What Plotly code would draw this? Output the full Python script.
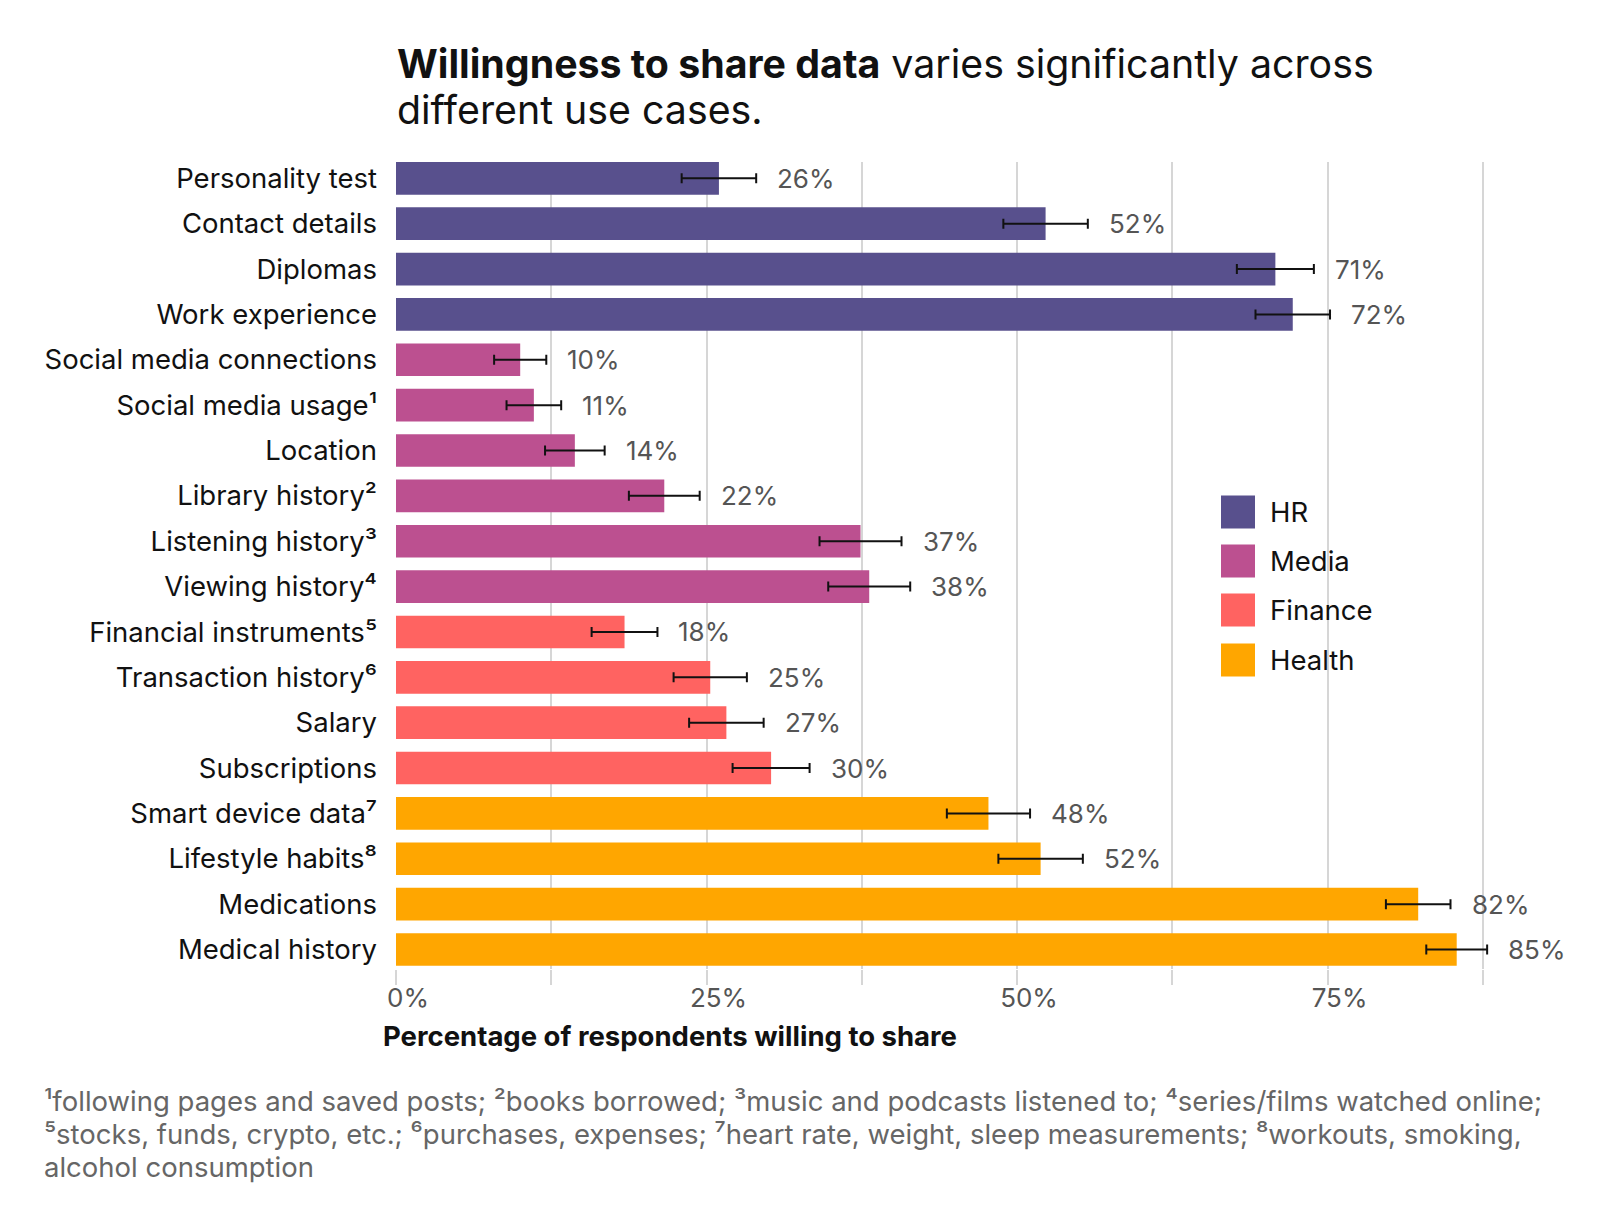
import plotly.graph_objects as go

# ---------------- data ----------------
groups = ["HR", "Media", "Finance", "Health"]
group_colors = ["#58508d", "#bc5090", "#ff6361", "#ffa600"]

hr_items = ["Personality test", "Contact details", "Diplomas", "Work experience"]
hr_values = [26.0, 52.3, 70.8, 72.2]
hr_errors = [3.0, 3.4, 3.1, 3.0]

media_items = ["Social media connections", "Social media usage¹", "Location",
               "Library history²", "Listening history³", "Viewing history⁴"]
media_values = [10.0, 11.1, 14.4, 21.6, 37.4, 38.1]
media_errors = [2.1, 2.2, 2.4, 2.85, 3.3, 3.3]

finance_items = ["Financial instruments⁵", "Transaction history⁶", "Salary", "Subscriptions"]
finance_values = [18.4, 25.3, 26.6, 30.2]
finance_errors = [2.65, 2.95, 3.0, 3.1]

health_items = ["Smart device data⁷", "Lifestyle habits⁸", "Medications", "Medical history"]
health_values = [47.7, 51.9, 82.3, 85.4]
health_errors = [3.35, 3.4, 2.6, 2.45]

x_tickvals = [0, 12.5, 25, 37.5, 50, 62.5, 75, 87.5]
x_ticktext = ["0%", "", "25%", "", "50%", "", "75%", ""]

title_lines = [
    "<b>Willingness to share data</b> varies significantly across",
    "different use cases.",
]
footnote_lines = [
    "¹following pages and saved posts; ²books borrowed; ³music and podcasts listened to; ⁴series/films watched online;",
    "⁵stocks, funds, crypto, etc.; ⁶purchases, expenses; ⁷heart rate, weight, sleep measurements; ⁸workouts, smoking,",
    "alcohol consumption",
]

# ---------------- layout geometry (pixels) ----------------
W, H = 1600, 1229
ML, MR, MT, MB = 396, 111, 162, 260
PW = W - ML - MR
PH = H - MT - MB
BAR_W = 0.72


def px(x):
    return (x - ML) / PW


def py(y):
    return (H - MB - y) / PH


FONT = "Inter, 'Noto Sans', sans-serif"
LABEL_SIZE = 27.5

fig = go.Figure()
all_items = []
series = [
    (hr_items, hr_values, hr_errors),
    (media_items, media_values, media_errors),
    (finance_items, finance_values, finance_errors),
    (health_items, health_values, health_errors),
]
annotations = []
for g, col, (items, vals, errs) in zip(groups, group_colors, series):
    all_items += items
    fig.add_trace(go.Bar(
        y=items, x=vals, orientation="h", name=g,
        marker=dict(color=col, line=dict(width=0)),
        width=BAR_W,
        error_x=dict(type="data", array=errs, visible=True, color="#111111",
                     thickness=2, width=5),
        showlegend=False,
        hoverinfo="x+y",
    ))
    for it, v, e in zip(items, vals, errs):
        annotations.append(dict(
            x=v + e, y=it, xref="x", yref="y", text=f"{round(v)}%",
            showarrow=False, xanchor="left", yanchor="middle", xshift=19,
            font=dict(family=FONT, size=26, color="#555555"),
        ))

# manual legend
leg_rows_y = [512, 561, 610, 660]
shapes = []
for g, col, yc in zip(groups, group_colors, leg_rows_y):
    shapes.append(dict(type="rect", xref="paper", yref="paper",
                       x0=px(1221), x1=px(1255), y0=py(yc + 16.5), y1=py(yc - 16.5),
                       fillcolor=col, line=dict(width=0), layer="above"))
    annotations.append(dict(x=px(1268), y=py(yc), xref="paper", yref="paper", text=g,
                            showarrow=False, xanchor="left", yanchor="middle",
                            font=dict(family=FONT, size=LABEL_SIZE, color="#111111")))

# title
for line, yc in zip(title_lines, [64, 109]):
    annotations.append(dict(
        x=px(395), y=py(yc), xref="paper", yref="paper", text=line,
        showarrow=False, xanchor="left", yanchor="middle", align="left",
        font=dict(family=FONT, size=39.3, color="#111111")))

# x-axis title
annotations.append(dict(x=px(381), y=py(1036), xref="paper", yref="paper",
                        text="<b>Percentage of respondents willing to share</b>",
                        showarrow=False, xanchor="left", yanchor="middle",
                        font=dict(family=FONT, size=LABEL_SIZE, color="#111111")))
# footnote
for line, yc in zip(footnote_lines, [1101, 1134, 1167]):
    annotations.append(dict(x=px(42), y=py(yc), xref="paper", yref="paper",
                            text=line, showarrow=False, xanchor="left", yanchor="middle",
                            align="left",
                            font=dict(family=FONT, size=LABEL_SIZE, color="#666666")))

n = len(all_items)
fig.update_layout(
    width=W, height=H,
    margin=dict(l=ML, r=MR, t=MT, b=MB),
    paper_bgcolor="white", plot_bgcolor="white",
    barmode="overlay",
    font=dict(family=FONT, size=24, color="#111111"),
    xaxis=dict(
        range=[0, 88], tickvals=x_tickvals, ticktext=x_ticktext,
        showgrid=True, gridcolor="#d6d6d6", gridwidth=1.6,
        ticks="outside", ticklen=15, tickwidth=1.6, tickcolor="#d6d6d6",
        tickfont=dict(family=FONT, size=26, color="#555555"),
        ticklabelshift=12, ticklabelstandoff=-9,
        zeroline=False, showline=False,
        fixedrange=True,
    ),
    yaxis=dict(
        categoryorder="array", categoryarray=all_items,
        range=[n - 1 + BAR_W / 2 + 0.07, -BAR_W / 2],
        showgrid=False, ticks="", ticklabelstandoff=18,
        tickfont=dict(family=FONT, size=LABEL_SIZE, color="#111111"),
        showline=False, zeroline=False,
    ),
    annotations=annotations,
    shapes=shapes,
)

fig.write_html("out.html")
